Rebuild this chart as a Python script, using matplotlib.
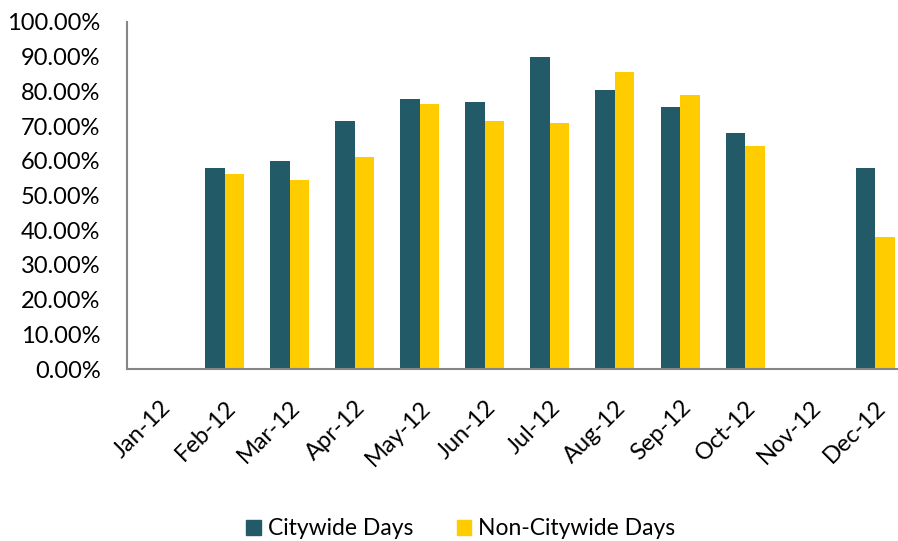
import numpy as np
import matplotlib
matplotlib.use("Agg")
import matplotlib.pyplot as plt
from matplotlib.ticker import FuncFormatter
from matplotlib.patches import Patch

# Monthly share of days
months = ['Jan-12', 'Feb-12', 'Mar-12', 'Apr-12', 'May-12', 'Jun-12',
          'Jul-12', 'Aug-12', 'Sep-12', 'Oct-12', 'Nov-12', 'Dec-12']
citywide = [0, 58.0, 60.0, 71.6, 77.8, 77.0, 89.9, 80.3, 75.5, 68.1, 0, 58.0]
non_citywide = [0, 56.1, 54.6, 61.2, 76.4, 71.6, 71.0, 85.5, 79.0, 64.3, 0, 38.0]

c_city = '#225a68'
c_non = '#ffcc00'
plt.rcParams['font.family'] = ['Lato', 'DejaVu Sans']

fig = plt.figure(figsize=(8.98, 5.41), dpi=100)
ax = fig.add_axes([127 / 898, 172 / 541, 1 - 127 / 898, 347 / 541])

x = np.arange(len(months))
w = 0.3
ax.bar(x - w / 2, citywide, w, color=c_city, label='Citywide Days')
ax.bar(x + w / 2, non_citywide, w, color=c_non, label='Non-Citywide Days')

ax.set_xlim(-0.5, 11.35)
ax.set_ylim(0, 100)
ax.set_yticks(np.arange(0, 101, 10))
ax.yaxis.set_major_formatter(FuncFormatter(lambda v, p: '{:.2f}%'.format(v)))
ax.set_xticks(x)
ax.set_xticklabels(months, rotation=45, ha='right', rotation_mode='anchor')
ax.tick_params(axis='both', length=0, labelsize=17, colors='#000000')
ax.tick_params(axis='y', pad=19)
ax.tick_params(axis='x', pad=20)

for s in ['top', 'right']:
    ax.spines[s].set_visible(False)
for s in ['left', 'bottom']:
    ax.spines[s].set_color('#868686')
    ax.spines[s].set_linewidth(1.5)

handles = [Patch(color=c_city, label='Citywide Days'),
           Patch(color=c_non, label='Non-Citywide Days')]
fig.legend(handles=handles, loc='lower center', bbox_to_anchor=(0.513, -0.035),
           ncol=2, frameon=False, fontsize=16.5, handlelength=0.65, handleheight=0.65,
           handletextpad=0.3, columnspacing=1.9)

fig.savefig('out.png', dpi=100)
